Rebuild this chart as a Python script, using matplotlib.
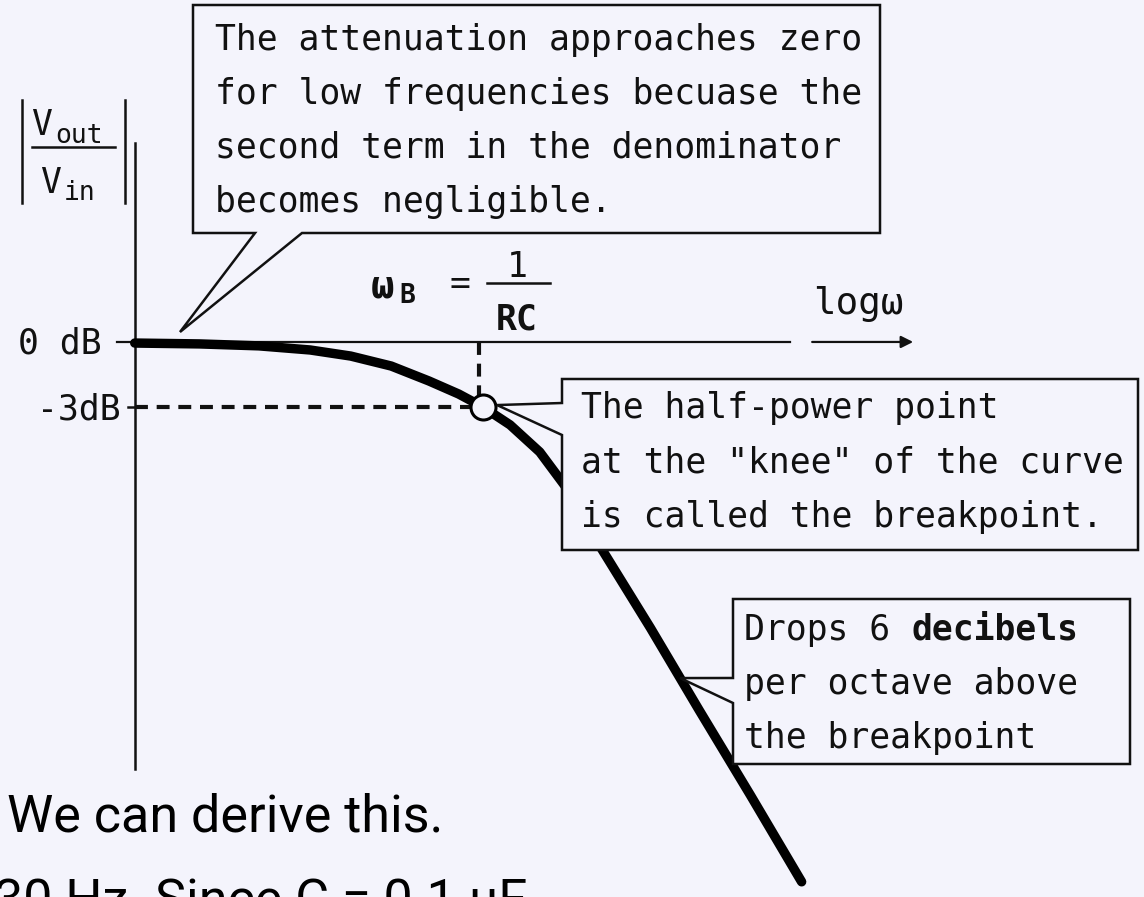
import numpy as np
import matplotlib
matplotlib.use('Agg')
import matplotlib.pyplot as plt
from matplotlib.patches import Polygon

# ---- magnitude response of the RC low-pass (log10(w/wB), dB) ----
log_w = [-1.29, -1.05, -0.83, -0.64, -0.49, -0.34, -0.20, -0.09, 0.0,
         0.10, 0.21, 0.32, 0.43, 0.62, 0.80, 0.99, 1.18]
gain_db = [-0.05, -0.09, -0.18, -0.37, -0.65, -1.11, -1.80, -2.40, -3.0,
           -3.82, -5.07, -6.91, -9.35, -13.18, -16.96, -20.88, -24.88]
break_w = 0.0
break_db = -3.0
level_db = [0, -3]
level_labels = ['0 dB', '-3dB']

box1_lines = ["The attenuation approaches zero",
              "for low frequencies becuase the",
              "second term in the denominator",
              "becomes negligible."]
box2_lines = ["The half-power point",
              'at the "knee" of the curve',
              "is called the breakpoint."]
box3_lines = ["Drops 6 ", "per octave above", "the breakpoint"]

W, H = 1144, 897
BG = '#f4f4fc'
INK = '#111111'
MONO = 'DejaVu Sans Mono'
FS = 25
ADV = 0.602 * FS * 100 / 72   # monospace advance in px

fig = plt.figure(figsize=(W / 100, H / 100), dpi=100)
fig.patch.set_facecolor(BG)

# data axes: 270 px per decade, 21.7 px per dB
ax = fig.add_axes([0, 0, 1, 1])
ax.set_xlim(-1.789, 2.448)
ax.set_ylim(-25.58, 15.76)
ax.set_facecolor('none')
ax.axis('off')

# pixel overlay for the labels and callouts
ov = fig.add_axes([0, 0, 1, 1], zorder=3)
ov.set_xlim(0, W)
ov.set_ylim(H, 0)
ov.set_facecolor('none')
ov.axis('off')


def to_px(x, y):
    dx, dy = ax.transData.transform((x, y))
    return dx, H - dy


x_axis = log_w[0]
# axes
ax.plot([x_axis, x_axis], [9.17, -19.7], color=INK, lw=1.8, zorder=2)
ax.plot([-1.356, 1.137], [0, 0], color=INK, lw=1.6, zorder=2)
ax.annotate('', xy=(1.593, 0), xytext=(1.219, 0),
            arrowprops=dict(arrowstyle='-|>', color=INK, lw=1.6,
                            mutation_scale=18, shrinkA=0, shrinkB=0))
ax.plot([x_axis - 0.026, x_axis], [-3, -3], color=INK, lw=1.8)

# -3 dB guides
ax.plot([x_axis, break_w], [break_db, break_db], color=INK, lw=3,
        dashes=(3.1, 2.1), zorder=2)
ax.plot([break_w - 0.015, break_w - 0.015], [0, break_db], color=INK, lw=3,
        dashes=(3.1, 2.1), zorder=2)

# response curve and breakpoint marker
ax.plot(log_w, gain_db, color='black', lw=6.8, solid_capstyle='round',
        solid_joinstyle='round', zorder=3)
ax.plot([break_w], [break_db], 'o', ms=18, mfc=BG, mec='black', mew=2.2,
        zorder=4)

# level labels
for lv, lab, gap in zip(level_db, level_labels, (33, 14)):
    px, py = to_px(x_axis, lv)
    ov.text(px - gap, py + 12, lab, ha='right', va='baseline',
            family=MONO, fontsize=FS, color=INK)

# |Vout / Vin| label
for bx in (22, 125):
    ov.plot([bx, bx], [100, 203], color=INK, lw=1.8)
ov.plot([32, 115], [147, 147], color=INK, lw=1.8)
ov.text(31, 135, 'V', family=MONO, fontsize=FS, color=INK, va='baseline')
ov.text(55, 143, 'out', family=MONO, fontsize=19, color=INK, va='baseline')
ov.text(40, 193, 'V', family=MONO, fontsize=FS, color=INK, va='baseline')
ov.text(64, 200, 'in', family=MONO, fontsize=19, color=INK, va='baseline')

# wB = 1/RC
ov.text(371, 297, 'ω', family=MONO, fontsize=28, fontweight='bold',
        color=INK, va='baseline')
ov.text(399, 303, 'B', family=MONO, fontsize=19, fontweight='bold',
        color=INK, va='baseline')
ov.text(460, 284, '=', family=MONO, fontsize=FS, color=INK,
        ha='center', va='center')
ov.text(517, 277, '1', family=MONO, fontsize=FS, color=INK,
        ha='center', va='baseline')
ov.plot([487, 550], [283, 283], color=INK, lw=1.8)
ov.text(517, 330, 'RC', family=MONO, fontsize=FS, fontweight='bold',
        color=INK, ha='center', va='baseline')

# axis name
ov.text(813, 314, 'logω', family=MONO, fontsize=27, color=INK, va='baseline')


def callout(verts, lines, x0, y0, step):
    ov.add_patch(Polygon(verts, closed=True, facecolor=BG, edgecolor=INK,
                         lw=1.8, joinstyle='miter', zorder=2))
    for i, s in enumerate(lines):
        ov.text(x0, y0 + i * step, s, family=MONO, fontsize=FS, color=INK,
                va='baseline', zorder=3)


# low-frequency note
tip1 = (180, 332)
callout([(193, 5), (880, 5), (880, 233), (302, 233), tip1, (255, 233),
         (193, 233)], box1_lines, 215, 50, 54)

# breakpoint note
cx, cy = to_px(break_w, break_db)
tip2 = (cx + 14, cy - 2)
callout([(562, 379), (1138, 379), (1138, 550), (562, 550), (562, 435),
         tip2, (562, 403)], box2_lines, 581, 418, 54.5)

# slope note
sw = 0.73
tip3 = to_px(sw, np.interp(sw, log_w, gain_db))
callout([(733, 599), (1130, 599), (1130, 764), (733, 764), (733, 703),
         tip3, (733, 678)], box3_lines, 744, 640, 54)
ov.text(744 + 8 * ADV, 640, 'decibels', family=MONO, fontsize=FS,
        fontweight='bold', color=INK, va='baseline', zorder=3)

# slide text below the figure
ov.text(7, 831, 'We can derive this.', family='Roboto', fontsize=37.5,
        color='black', va='baseline')
ov.text(-6, 916, '30 Hz. Since C = 0.1 μF', family='Roboto', fontsize=37.5,
        color='black', va='baseline')

fig.savefig('out.png', dpi=100, facecolor=BG)
